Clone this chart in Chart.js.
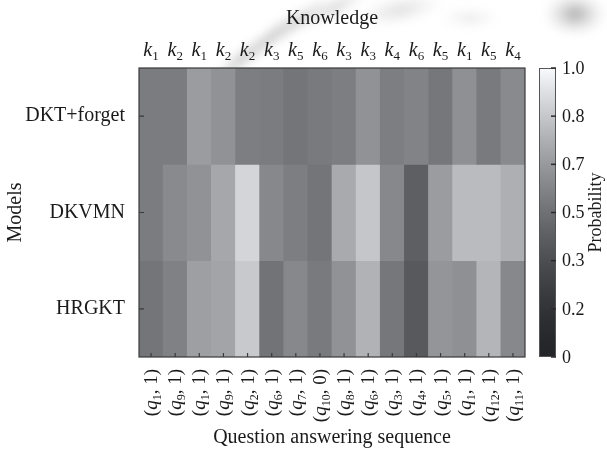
<!DOCTYPE html>
<html>
<head>
<meta charset="utf-8">
<script src="https://cdn.jsdelivr.net/npm/chart.js@4.4.1/dist/chart.umd.min.js"></script>
<style>
  html, body { margin: 0; padding: 0; background: #ffffff; }
  #wrap { width: 607px; height: 454px; }
</style>
</head>
<body>
<div id="wrap"><canvas id="heat" width="607" height="454"></canvas></div>
<script>
// Models (rows, top to bottom)
const models = ['DKT+forget', 'DKVMN', 'HRGKT'];
// Knowledge concept index for each step (k subscript)
const knowledgeIds = ['1', '2', '1', '2', '2', '3', '5', '6', '3', '3', '4', '6', '5', '1', '5', '4'];
// Question index and answer for each step
const questionIds = ['1', '9', '1', '9', '2', '6', '7', '10', '8', '6', '3', '4', '5', '1', '12', '11'];
const answers = ['1', '1', '1', '1', '1', '1', '1', '0', '1', '1', '1', '1', '1', '1', '1', '1'];
// Predicted probability of a correct answer at each step
const probDKTForget = [0.55, 0.55, 0.68, 0.64, 0.56, 0.55, 0.52, 0.54, 0.56, 0.64, 0.56, 0.58, 0.53, 0.63, 0.54, 0.61];
const probDKVMN     = [0.55, 0.61, 0.64, 0.72, 0.88, 0.60, 0.56, 0.52, 0.73, 0.83, 0.60, 0.42, 0.68, 0.79, 0.79, 0.75];
const probHRGKT     = [0.52, 0.57, 0.69, 0.71, 0.84, 0.51, 0.60, 0.54, 0.64, 0.76, 0.53, 0.39, 0.65, 0.63, 0.77, 0.60];
// Colour bar labels, evenly spaced from 0 to 1
const colorbarTickLabels = ['0', '0.2', '0.3', '0.5', '0.7', '0.8', '1.0'];

const SERIF = '"Liberation Serif", "Times New Roman", serif';
const TEXT = '#1a1a1a';

// Grey colour map (slightly cool tint)
function probColor(p) {
  const g = 37 + 213 * Math.pow(Math.max(0, Math.min(1, p)), 1.5);
  const c = (v) => Math.max(0, Math.min(255, Math.round(v)));
  return `rgb(${c(g - 1)},${c(g)},${c(g + 4)})`;
}

const rows = [probDKTForget, probDKVMN, probHRGKT];
const stepLabels = questionIds.map((q, i) => `(q${q}, ${answers[i]})`);

const datasets = rows.map((vals, r) => ({
  label: models[r],
  data: vals.map(() => [r, r + 1]),
  backgroundColor: vals.map(probColor),
  borderWidth: 0,
  barPercentage: 1,
  categoryPercentage: 1,
  grouped: false
}));

function segWidth(ctx, segs) {
  let w = 0;
  for (const s of segs) { ctx.font = s.font; w += ctx.measureText(s.text).width; }
  return w;
}
function drawSegs(ctx, segs, x, y) {
  let cx = x;
  for (const s of segs) {
    ctx.font = s.font;
    ctx.fillText(s.text, cx, y + (s.dy || 0));
    cx += ctx.measureText(s.text).width;
  }
}

// faint blurred backdrop in the top margin
const backdrop = {
  id: 'backdrop',
  beforeDraw(chart) {
    const { ctx } = chart;
    ctx.save();
    ctx.filter = 'blur(5px)';
    const blob = (x, y, rx, ry, rot, col) => {
      ctx.save();
      ctx.translate(x, y);
      ctx.rotate(rot);
      ctx.scale(1, ry / rx);
      const g = ctx.createRadialGradient(0, 0, 0, 0, 0, rx);
      g.addColorStop(0, col);
      g.addColorStop(1, 'rgba(200,200,200,0)');
      ctx.fillStyle = g;
      ctx.beginPath();
      ctx.arc(0, 0, rx, 0, Math.PI * 2);
      ctx.fill();
      ctx.restore();
    };
    blob(240, 60, 40, 9, -0.7, 'rgba(140,140,140,0.55)');
    blob(270, 38, 45, 9, -0.7, 'rgba(140,140,140,0.55)');
    blob(300, 20, 45, 9, -0.6, 'rgba(140,140,140,0.5)');
    blob(335, 8, 40, 9, -0.5, 'rgba(150,150,150,0.45)');
    blob(400, 10, 45, 14, -0.2, 'rgba(170,170,170,0.4)');
    blob(470, 18, 30, 10, 0, 'rgba(185,185,185,0.3)');
    blob(575, 14, 32, 22, 0, 'rgba(120,120,120,0.65)');
    ctx.restore();
  }
};

const decor = {
  id: 'decor',
  afterDatasetsDraw(chart) {
    const { ctx, chartArea: a, scales } = chart;
    const xs = scales.x, ys = scales.y;
    ctx.save();

    // frame
    ctx.strokeStyle = '#3a3a3a';
    ctx.lineWidth = 1.2;
    ctx.strokeRect(a.left, a.top, a.right - a.left, a.bottom - a.top);

    // inward ticks
    ctx.lineWidth = 1.2;
    ctx.beginPath();
    models.forEach((m, r) => {
      const y = ys.getPixelForValue(r + 0.5);
      ctx.moveTo(a.left, y); ctx.lineTo(a.left + 5, y);
    });
    stepLabels.forEach((s, i) => {
      const x = xs.getPixelForValue(i);
      ctx.moveTo(x, a.bottom); ctx.lineTo(x, a.bottom - 4);
    });
    ctx.stroke();

    ctx.fillStyle = TEXT;
    ctx.textAlign = 'left';
    ctx.textBaseline = 'alphabetic';

    // top axis: knowledge concepts
    ctx.font = `20px ${SERIF}`;
    ctx.textAlign = 'center';
    ctx.fillText('Knowledge', (a.left + a.right) / 2, 24);
    ctx.textAlign = 'left';
    knowledgeIds.forEach((k, i) => {
      const x = xs.getPixelForValue(i);
      const segs = [
        { text: 'k', font: `italic 20px ${SERIF}` },
        { text: k, font: `13px ${SERIF}`, dy: 4 }
      ];
      const w = segWidth(ctx, segs);
      drawSegs(ctx, segs, x - w / 2, 56);
    });

    // bottom axis: (question, answer) pairs, rotated
    questionIds.forEach((q, i) => {
      const x = xs.getPixelForValue(i);
      const segs = [
        { text: '(', font: `19px ${SERIF}` },
        { text: 'q', font: `italic 19px ${SERIF}` },
        { text: q, font: `12px ${SERIF}`, dy: 4 },
        { text: ', ' + answers[i], font: `19px ${SERIF}` },
        { text: ')', font: `19px ${SERIF}` }
      ];
      const w = segWidth(ctx, segs);
      ctx.save();
      ctx.translate(x, a.bottom + 12);
      ctx.rotate(-Math.PI / 2);
      drawSegs(ctx, segs, -w, 6);
      ctx.restore();
    });

    // colour bar
    const cx0 = 539, cx1 = 556;
    const grad = ctx.createLinearGradient(0, a.bottom, 0, a.top);
    for (let s = 0; s <= 40; s++) grad.addColorStop(s / 40, probColor(s / 40));
    ctx.fillStyle = grad;
    ctx.fillRect(cx0, a.top, cx1 - cx0, a.bottom - a.top);
    ctx.strokeStyle = '#555555';
    ctx.lineWidth = 1;
    ctx.strokeRect(cx0 + 0.5, a.top + 0.5, cx1 - cx0 - 1, a.bottom - a.top - 1);
    const n = colorbarTickLabels.length;
    ctx.strokeStyle = '#2a2a2a';
    ctx.lineWidth = 1.5;
    ctx.fillStyle = TEXT;
    ctx.font = `18px ${SERIF}`;
    ctx.textBaseline = 'middle';
    colorbarTickLabels.forEach((lab, k) => {
      const y = a.bottom - (k / (n - 1)) * (a.bottom - a.top);
      ctx.beginPath();
      ctx.moveTo(cx1, y); ctx.lineTo(cx1 - 5, y);
      ctx.stroke();
      ctx.fillText(lab, cx1 + 6, y + 1);
    });
    ctx.save();
    ctx.translate(596, (a.top + a.bottom) / 2);
    ctx.rotate(-Math.PI / 2);
    ctx.textAlign = 'center';
    ctx.fillText('Probability', 0, 0);
    ctx.restore();

    ctx.restore();
  }
};

new Chart(document.getElementById('heat'), {
  type: 'bar',
  data: { labels: stepLabels, datasets },
  options: {
    responsive: false,
    animation: false,
    layout: { padding: { top: 68, right: 82, left: 0, bottom: 0 } },
    plugins: { legend: { display: false }, tooltip: { enabled: false } },
    scales: {
      x: {
        type: 'category',
        offset: true,
        grid: { display: false },
        border: { display: false },
        ticks: { display: false },
        title: {
          display: true,
          text: 'Question answering sequence',
          color: TEXT,
          font: { family: SERIF, size: 20 },
          padding: { top: 0, bottom: 4 }
        },
        afterFit(s) { s.height = 97; }
      },
      y: {
        type: 'linear',
        min: 0,
        max: 3,
        reverse: true,
        grid: { display: false, drawTicks: false },
        border: { display: false },
        afterBuildTicks(s) { s.ticks = [0.5, 1.5, 2.5].map(v => ({ value: v })); },
        ticks: {
          callback: (v) => models[Math.floor(v)],
          color: TEXT,
          font: { family: SERIF, size: 20 },
          padding: 14
        },
        title: {
          display: true,
          text: 'Models',
          color: TEXT,
          font: { family: SERIF, size: 20 },
          padding: { top: 4, bottom: 0 }
        },
        afterFit(s) { s.width = 139; }
      }
    }
  },
  plugins: [backdrop, decor]
});
</script>
</body>
</html>
